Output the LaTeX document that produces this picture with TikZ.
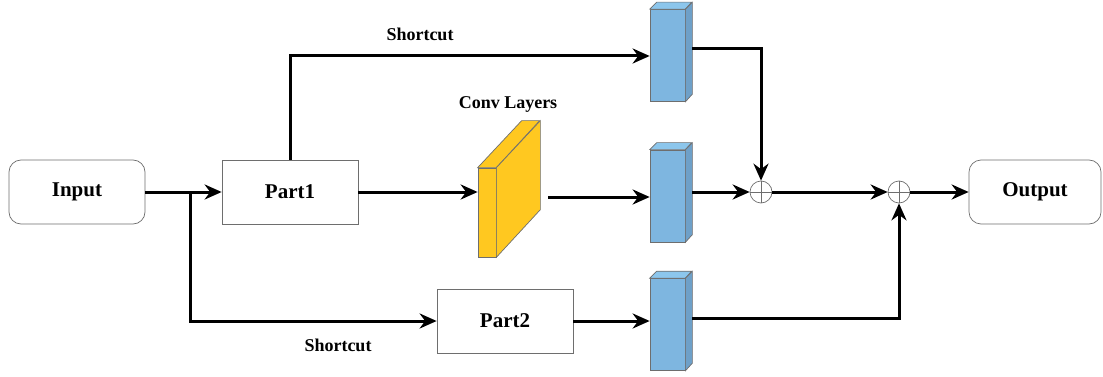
\documentclass[tikz,border=0pt]{standalone}
\usepackage{fontspec}
\setmainfont{Liberation Serif}
\usetikzlibrary{positioning,calc,arrows.meta}
\definecolor{blauw}{RGB}{126,182,224}
\definecolor{blauwzij}{RGB}{110,160,200}
\definecolor{blauwtop}{RGB}{140,198,236}
\definecolor{geel}{RGB}{255,200,32}
\definecolor{rand}{RGB}{110,110,110}
\tikzset{
  blok/.style={draw=rand, line width=0.7pt, fill=white, minimum width=136pt,
    minimum height=64pt, font=\fontsize{21}{24}\selectfont\bfseries},
  io/.style={blok, rounded corners=12pt},
  feat/.style={draw=rand, line width=0.7pt, fill=blauw, minimum width=35pt,
    minimum height=92pt, inner sep=0pt},
  som/.style={circle, draw=rand, line width=0.7pt, minimum size=22pt, inner sep=0pt},
  pijl/.style={->, line width=3pt},
  label/.style={font=\fontsize{18}{20}\selectfont\bfseries}
}
\begin{document}
\begin{tikzpicture}[>={Stealth[length=17pt,width=15pt]}, x=1pt, y=-1pt]
  \useasboundingbox (0,0) rectangle (1103,377);

  % blokken
  \node[io] (input) at (77,192) {Input};
  \node[blok] (part1) at (290,192) {Part1};
  \node[blok] (part2) at (505,321) {Part2};
  \node[io, minimum width=132pt] (output) at (1035,192) {Output};

  % conv-lagen
  \node[draw=rand, line width=0.7pt, fill=geel, minimum width=18pt,
    minimum height=89pt, inner sep=0pt] (conv) at (487,212.5) {};
  \draw[draw=rand, line width=0.7pt, fill=geel] (conv.north west) -- ++(44,-47)
    -- ++(18,0) -- (conv.north east) -- cycle;
  \draw[draw=rand, line width=0.7pt, fill=geel] (conv.north east) -- ++(44,-47)
    -- ++(0,89) -- (conv.south east) -- cycle;
  \node[label] (convlab) at (508,104) {Conv Layers};

  % feature maps
  \foreach \n/\y in {b1/55.5, b2/196, b3/324.5} {
    \node[feat] (\n) at (667.5,\y) {};
    \draw[draw=rand, line width=0.7pt, fill=blauwtop] (\n.north west) -- ++(7,-7)
      -- ++(35,0) -- (\n.north east) -- cycle;
    \draw[draw=rand, line width=0.7pt, fill=blauwzij] (\n.north east) -- ++(7,-7)
      -- ++(0,92) -- (\n.south east) -- cycle;
    \coordinate (\n o) at ($(\n.east)+(7,-6.5)$);
  }

  % sommen
  \node[som] (plus1) at (761,192) {};
  \draw[rand, line width=0.7pt] (plus1.north) -- (plus1.south) (plus1.west) -- (plus1.east);
  \node[som] (plus2) at (899,192) {};
  \draw[rand, line width=0.7pt] (plus2.north) -- (plus2.south) (plus2.west) -- (plus2.east);

  % verbindingen
  \coordinate (split) at (190,192);
  \coordinate (convo) at (548,197);
  \draw[pijl] (input) -- (part1);
  \draw[pijl] (split) |- (part2);
  \draw[pijl] (part1.north) |- (b1.west |- 0,56);
  \draw[pijl] (part1.east) -- (part1.east -| conv.west);
  \draw[pijl] (convo) -- (convo -| b2.west);
  \draw[pijl] (part2) -- (part2 -| b3.west);
  \draw[pijl] (b1o) -| (plus1);
  \draw[pijl] (plus1 -| b2o) -- (plus1);
  \draw[pijl] (plus1) -- (plus2);
  \draw[pijl] (b3o) -| (plus2);
  \draw[pijl] (plus2) -- (output);

  % labels
  \node[label] (sc1) at (420,34) {Shortcut};
  \node[label] (sc2) at (338,345) {Shortcut};
\end{tikzpicture}
\end{document}
